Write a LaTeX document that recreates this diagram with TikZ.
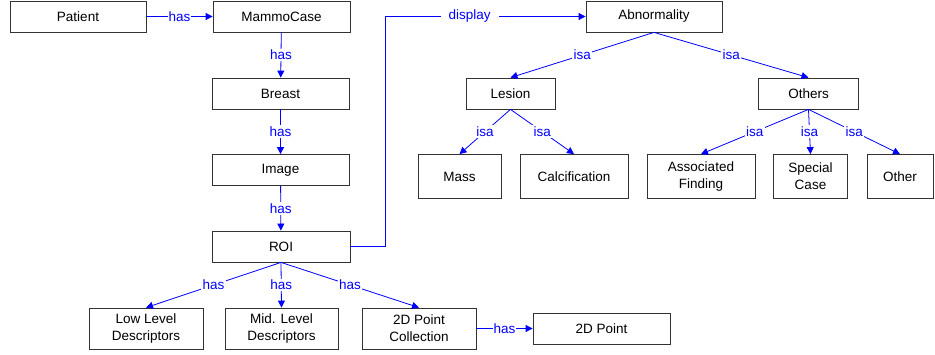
\documentclass[tikz,border=0pt]{standalone}
\usepackage{fontspec}
\setmainfont{Liberation Sans}
\usetikzlibrary{arrows.meta}
\begin{document}
\begin{tikzpicture}[x=1pt,y=-1pt,
  box/.style={draw=black!80, line width=0.8pt, fill=white, inner sep=0pt, align=center,
    font=\fontsize{13.5}{17}\selectfont, minimum height=31pt},
  tall/.style={minimum height=44pt},
  conn/.style={draw=blue, line width=0.8pt, -{Triangle[length=7pt,width=7pt]}},
  lbl/.style={fill=white, text=blue, inner sep=1.5pt, font=\fontsize{13.5}{16}\selectfont}]
\useasboundingbox (0,0) rectangle (935,354);
% left column
\node[box, minimum width=136pt] (patient) at (78,16.5) {Patient};
\node[box, minimum width=137pt] (mammo) at (281.5,16.5) {MammoCase};
\node[box, minimum width=137pt] (breast) at (280.5,93.5) {Breast};
\node[box, minimum width=137pt] (image) at (280.5,170) {Image};
\node[box, minimum width=138pt] (roi) at (281,246.5) {ROI};
\node[box, tall, minimum height=41pt, minimum width=114pt] (low) at (146,328.5) {Low Level\\Descriptors};
\node[box, tall, minimum height=41pt, minimum width=113pt] (mid) at (281.5,328.5) {Mid. Level\\Descriptors};
\node[box, tall, minimum height=41pt, minimum width=114pt] (coll) at (419,328.5) {2D Point\\Collection};
\node[box, minimum width=137pt] (pt) at (601.5,328.5) {2D Point};
% right tree
\node[box, minimum width=136pt] (abn) at (654,16.5) {Abnormality};
\node[box, minimum width=89pt] (lesion) at (510.5,93.5) {Lesion};
\node[box, minimum width=100pt] (others) at (808.5,93.5) {Others};
\node[box, tall, minimum width=83pt] (mass) at (459.5,176.5) {Mass};
\node[box, tall, minimum width=108pt] (calc) at (574,176.5) {Calcification};
\node[box, tall, minimum width=108pt] (assoc) at (701,176.5) {Associated\\Finding};
\node[box, tall, minimum width=74pt] (special) at (810.5,176.5) {Special\\Case};
\node[box, tall, minimum width=66pt] (other) at (900,176.5) {Other};
\coordinate (dc) at (385.5,16.5);
% connectors
\draw[conn] (patient) -- node[lbl, inner sep=0.5pt]{has} (mammo);
\draw[conn] (mammo) -- node[lbl]{has} (breast);
\draw[conn] (breast) -- node[lbl]{has} (image);
\draw[conn] (image) -- node[lbl]{has} (roi);
\draw[conn] (roi.south) -- node[lbl]{has} (low.north);
\draw[conn] (roi.south) -- node[lbl]{has} (mid.north);
\draw[conn] (roi.south) -- node[lbl]{has} (coll.north);
\draw[conn] (coll) -- node[lbl, inner sep=0.5pt]{has} (pt);
\draw[conn] (roi.east) -| (dc) -- node[lbl, pos=0.42, inner xsep=8pt]{display} (abn.west);
\draw[conn] (abn.south) -- node[lbl]{isa} (lesion.north);
\draw[conn] (abn.south) -- node[lbl]{isa} (others.north);
\draw[conn] (lesion.south) -- node[lbl]{isa} (mass.north);
\draw[conn] (lesion.south) -- node[lbl]{isa} (calc.north);
\draw[conn] (others.south) -- node[lbl]{isa} (assoc.north);
\draw[conn] (others.south) -- node[lbl]{isa} (special.north);
\draw[conn] (others.south) -- node[lbl]{isa} (other.north);
\end{tikzpicture}
\end{document}
